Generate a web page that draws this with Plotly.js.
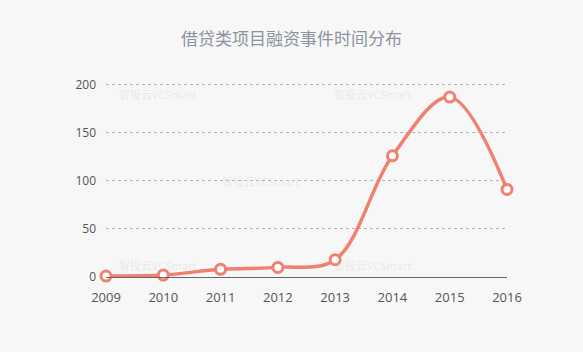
<!DOCTYPE html>
<html>
<head>
<meta charset="utf-8">
<script src="https://cdn.plot.ly/plotly-3.0.1.min.js"></script>
<style>html,body{margin:0;padding:0;background:#f7f7f7;}#chart{width:583px;height:352px;}</style>
</head>
<body>
<div id="chart"></div>
<script>
var years = [2009, 2010, 2011, 2012, 2013, 2014, 2015, 2016];
var counts = [1, 2, 8, 10, 18, 126, 187, 91];
var yTicks = [0, 50, 100, 150, 200];
var titleText = '借贷类项目融资事件时间分布';
var watermark = '智投云VCSmart';

var trace = {
  x: years, y: counts, type: 'scatter', mode: 'lines+markers',
  line: {color: '#f0806f', width: 3.5, shape: 'spline', smoothing: 1},
  marker: {symbol: 'circle', size: 10, color: '#ffffff', line: {color: '#f0806f', width: 3}},
  cliponaxis: false, hoverinfo: 'x+y'
};

var wm = [[2009.9, 190], [2013.65, 190], [2011.7, 100], [2009.9, 12], [2013.65, 12]];
var annotations = wm.map(function(p){
  return {x: p[0], y: p[1], xref: 'x', yref: 'y', text: watermark, showarrow: false,
    font: {family: 'Noto Sans CJK SC, sans-serif', size: 11, color: 'rgba(200,200,200,0.3)'}};
});

var layout = {
  width: 583, height: 352,
  paper_bgcolor: '#f7f7f7', plot_bgcolor: '#f7f7f7',
  margin: {l: 106, r: 76, t: 75, b: 75},
  title: {text: titleText, x: 0.5, xanchor: 'center', y: 0.89, yanchor: 'middle',
    font: {family: 'Noto Sans CJK SC, sans-serif', size: 17, color: '#8d93a0'}},
  showlegend: false,
  xaxis: {range: [2009, 2016], tickvals: years, ticktext: years.map(String),
    showgrid: false, zeroline: false, showline: true, linecolor: '#666', linewidth: 1,
    ticks: '', ticklabelstandoff: 8,
    tickfont: {family: 'Open Sans, sans-serif', size: 13, color: '#555'}, fixedrange: true},
  yaxis: {range: [0, 210], tickvals: yTicks, ticktext: yTicks.map(String),
    showgrid: true, gridcolor: '#b5b5b5', griddash: 'dot', gridwidth: 1, zeroline: false,
    showline: false, ticks: '', ticklabelstandoff: 9,
    tickfont: {family: 'Open Sans, sans-serif', size: 12, color: '#555'}, fixedrange: true},
  annotations: annotations
};

Plotly.newPlot('chart', [trace], layout, {displayModeBar: false, staticPlot: true});
</script>
</body>
</html>
